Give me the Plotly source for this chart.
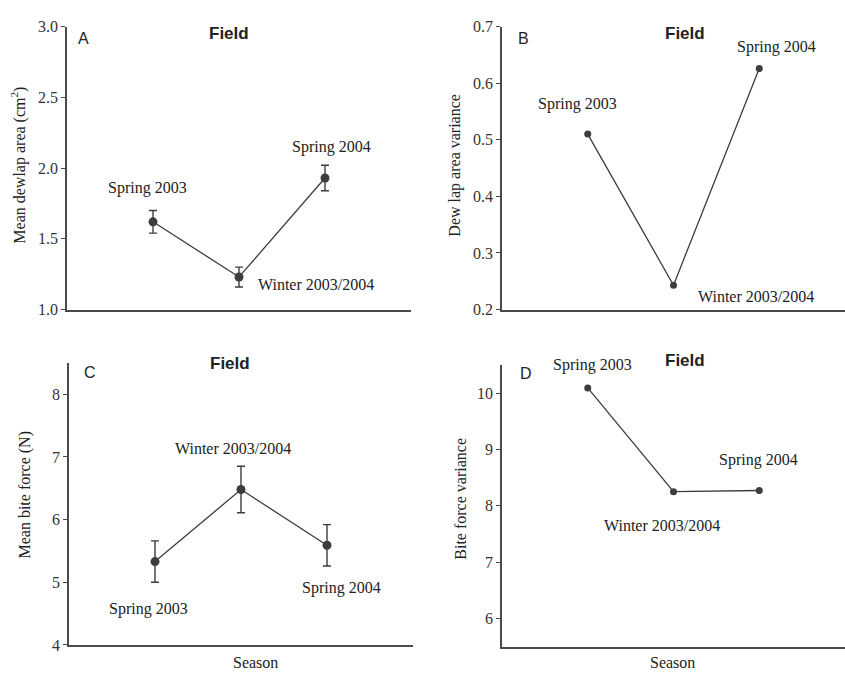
import plotly.graph_objects as go

# ---- data ----
seasons = ["Spring 2003", "Winter 2003/2004", "Spring 2004"]
season_pos = [1, 2, 3]
dewlap_mean = [1.62, 1.23, 1.93]
dewlap_err = [0.08, 0.07, 0.09]
dewlap_var = [0.51, 0.243, 0.626]
bite_mean = [5.33, 6.48, 5.59]
bite_err = [0.33, 0.37, 0.33]
bite_var = [10.09, 8.25, 8.27]

W, H = 845, 680
INK = "#3d3d3d"
AX = "#4a4a4a"
SERIF = "Liberation Serif, Times New Roman, serif"
SANS = "Liberation Sans, Arial, sans-serif"

fig = go.Figure()

def add_series(y, err, xa, ya, msize):
    kw = {}
    if err is not None:
        kw["error_y"] = dict(type="data", array=err, visible=True, color=INK,
                             thickness=1.4, width=4)
    fig.add_trace(go.Scatter(x=season_pos, y=y, mode="lines+markers",
                             xaxis=xa, yaxis=ya,
                             line=dict(color=INK, width=1.3),
                             marker=dict(color=INK, size=msize),
                             showlegend=False, cliponaxis=False, **kw))

add_series(dewlap_mean, dewlap_err, "x", "y", 9)
add_series(dewlap_var, None, "x2", "y2", 7)
add_series(bite_mean, bite_err, "x3", "y3", 9)
add_series(bite_var, None, "x4", "y4", 7)

def px_x(p):
    return p / W

def px_y(p):
    return 1 - p / H

xbase = dict(range=[0, 4], showline=True, linecolor=AX, linewidth=1.5,
             showticklabels=False, ticks="", showgrid=False, zeroline=False,
             fixedrange=True)
ybase = dict(showline=True, linecolor=AX, linewidth=1.5, ticks="outside",
             ticklen=4, tickwidth=1.2, tickcolor=AX, showgrid=False,
             zeroline=False, tickfont=dict(family=SERIF, size=16, color="#333"),
             fixedrange=True)

layout = dict(
    width=W, height=H, margin=dict(l=0, r=0, t=0, b=0),
    paper_bgcolor="white", plot_bgcolor="white",
    xaxis=dict(xbase, domain=[px_x(67), px_x(411)], anchor="y"),
    yaxis=dict(ybase, domain=[px_y(309.3), px_y(19)], anchor="x",
               range=[1.0, 3.0], tickvals=[1.0, 1.5, 2.0, 2.5, 3.0],
               ticktext=["1.0", "1.5", "2.0", "2.5", "3.0"]),
    xaxis2=dict(xbase, domain=[px_x(502), 1.0], anchor="y2"),
    yaxis2=dict(ybase, domain=[px_y(309.3), px_y(19)], anchor="x2",
                range=[0.2, 0.7], tickvals=[0.2, 0.3, 0.4, 0.5, 0.6, 0.7],
                ticktext=["0.2", "0.3", "0.4", "0.5", "0.6", "0.7"]),
    xaxis3=dict(xbase, domain=[px_x(69), px_x(413)], anchor="y3"),
    yaxis3=dict(ybase, domain=[px_y(653.3), px_y(364)], anchor="x3",
                range=[4, 8.5], tickvals=[4, 5, 6, 7, 8]),
    xaxis4=dict(xbase, domain=[px_x(502), 1.0], anchor="y4"),
    yaxis4=dict(ybase, domain=[px_y(655), px_y(366)], anchor="x4",
                range=[5.5, 10.5], tickvals=[6, 7, 8, 9, 10]),
)
fig.update_layout(**layout)

ann = []

def lab(text, x, y, xr, yr, font=SERIF, size=16, bold=False):
    t = f"<b>{text}</b>" if bold else text
    ann.append(dict(text=t, x=x, y=y, xref=xr, yref=yr, showarrow=False,
                    xanchor="center", yanchor="middle",
                    font=dict(family=font, size=size, color="#222")))

# Panel A
lab("Field", 1.88, 0.977, "x", "y domain", SANS, 17, True)
lab("A", 0.19, 0.957, "x", "y domain", SANS, 16)
lab(seasons[0], 0.94, 1.857, "x", "y")
lab(seasons[1], 2.89, 1.175, "x", "y")
lab(seasons[2], 3.07, 2.149, "x", "y")
# Panel B
lab("Field", 2.13, 0.977, "x2", "y2 domain", SANS, 17, True)
lab("B", 0.25, 0.957, "x2", "y2 domain", SANS, 16)
lab(seasons[0], 0.876, 0.5626, "x2", "y2")
lab(seasons[1], 2.96, 0.223, "x2", "y2")
lab(seasons[2], 3.2, 0.663, "x2", "y2")
# Panel C
lab("Field", 1.87, 0.998, "x3", "y3 domain", SANS, 17, True)
lab("C", 0.24, 0.965, "x3", "y3 domain", SANS, 16)
lab(seasons[0], 0.92, 4.58, "x3", "y3")
lab(seasons[1], 1.91, 7.13, "x3", "y3")
lab(seasons[2], 3.17, 4.905, "x3", "y3")
# Panel D
lab("Field", 2.13, 1.015, "x4", "y4 domain", SANS, 17, True)
lab("D", 0.28, 0.968, "x4", "y4 domain", SANS, 16)
lab(seasons[0], 1.05, 0.998, "x4", "y4 domain")
lab(seasons[1], 1.86, 7.655, "x4", "y4")
lab(seasons[2], 2.99, 8.82, "x4", "y4")

# axis titles
def vtitle(text, xp, yp):
    ann.append(dict(text=text, x=px_x(xp), y=px_y(yp), xref="paper", yref="paper",
                    showarrow=False, textangle=-90, xanchor="center", yanchor="middle",
                    font=dict(family=SERIF, size=16, color="#222")))

vtitle("Mean dewlap area (cm<sup>2</sup>)", 19, 161.7)
vtitle("Dew lap area variance", 455, 161.7)
vtitle("Mean bite force (N)", 25, 499)
vtitle("Bite force variance", 461, 503.3)

for xp in (255, 672):
    ann.append(dict(text="Season", x=px_x(xp), y=px_y(671), xref="paper", yref="paper",
                    showarrow=False, xanchor="center", yanchor="middle",
                    font=dict(family=SERIF, size=16, color="#222")))

fig.update_layout(annotations=ann)
fig.write_html("out.html", config={"displayModeBar": False},
               post_script="document.body.style.margin='0';document.body.style.overflow='hidden';")
